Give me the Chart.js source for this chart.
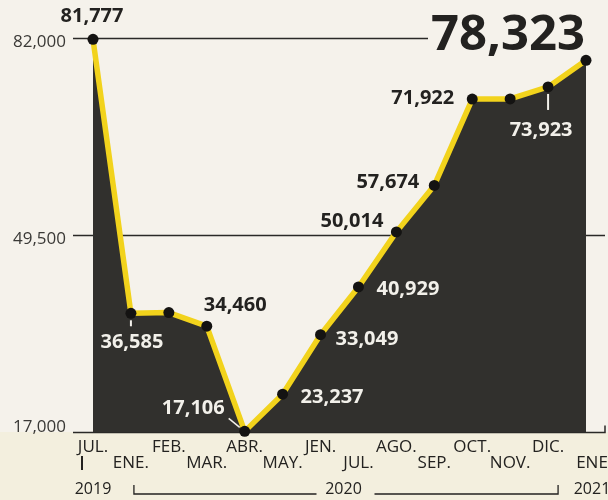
<!DOCTYPE html>
<html>
<head>
<meta charset="utf-8">
<script src="https://cdn.jsdelivr.net/npm/chart.js@4"></script>
<style>
  html, body { margin: 0; padding: 0; background: #f4f1e9; }
  #wrap { width: 608px; height: 500px; position: relative; }
</style>
</head>
<body>
<div id="wrap"><canvas id="chart" width="608" height="500"></canvas></div>
<script>
// ---- data ----
const months = ["JUL.", "ENE.", "FEB.", "MAR.", "ABR.", "MAY.", "JEN.", "JUL.", "AGO.", "SEP.", "OCT.", "NOV.", "DIC.", "ENE"];
const values = [81777, 36585, 36700, 34460, 17106, 23237, 33049, 40929, 50014, 57674, 71922, 71950, 73923, 78323];
const labelled = [true, true, false, true, true, true, true, true, true, true, true, false, true, true];
const years = ["2019", "2020", "2021"];
const yTicks = [17000, 49500, 82000];

// ---- look ----
const INK = "#232220";
const AREA = "#31302d";
const YELLOW = "#f2d31c";
const FONT = "'Open Sans', sans-serif";

// where each value label sits relative to its dot
const placement = [
  { align: "center", dx: -1, dy: -23, color: INK },
  { align: "center", dx: 1, dy: 29, color: "#f2f0ea", tick: [7, 13] },
  null,
  { align: "left", dx: -3, dy: -21, color: INK },
  { align: "right", dx: -20, dy: -23, color: "#f2f0ea", leader: true },
  { align: "left", dx: 18, dy: 3, color: "#f2f0ea" },
  { align: "left", dx: 15, dy: 5, color: "#f2f0ea" },
  { align: "left", dx: 18, dy: 2, color: "#f2f0ea" },
  { align: "right", dx: -13, dy: -11, color: INK },
  { align: "right", dx: -15, dy: -3, color: INK },
  { align: "right", dx: -18, dy: -1, color: INK },
  null,
  { align: "center", dx: -7, dy: 43, color: "#f2f0ea", tick: [7, 23] },
  { big: true }
];

const fmt = v => v.toLocaleString("en-US");

// paper background + slightly warmer band under the baseline
const paper = {
  id: "paper",
  beforeDraw(chart) {
    const { ctx, width, height } = chart;
    const base = chart.scales.y.getPixelForValue(17000);
    ctx.save();
    ctx.fillStyle = "#f5f2eb";
    ctx.fillRect(0, 0, width, height);
    ctx.fillStyle = "#f3efde";
    ctx.fillRect(0, base, width, height - base);
    ctx.restore();
  }
};

// reference lines and y labels, drawn under the area
const refLines = {
  id: "refLines",
  beforeDatasetsDraw(chart) {
    const { ctx, chartArea } = chart;
    const y = chart.scales.y;
    ctx.save();
    ctx.strokeStyle = "#2a2927";
    ctx.lineWidth = 1.5;
    yTicks.forEach(t => {
      const py = Math.round(y.getPixelForValue(t)) + 0.5;
      let x0 = chartArea.left - 20, x1 = chartArea.right + 19;
      if (t === 82000) x1 = chartArea.right - 158;
      ctx.beginPath();
      ctx.moveTo(x0, py);
      ctx.lineTo(x1, py);
      if (t === 17000) ctx.lineTo(x1, py - 7);
      ctx.stroke();

      ctx.fillStyle = "#3a3936";
      ctx.font = "17px " + FONT;
      ctx.textAlign = "right";
      ctx.textBaseline = "middle";
      ctx.fillText(fmt(t), chartArea.left - 27, t === 17000 ? py - 5 : py + 4);
    });
    ctx.restore();
  }
};

// month rows and year brackets under the axis
const monthAxis = {
  id: "monthAxis",
  afterDraw(chart) {
    const { ctx } = chart;
    const x = chart.scales.x;
    const base = chart.scales.y.getPixelForValue(17000);
    ctx.save();
    ctx.fillStyle = INK;
    ctx.font = "17px " + FONT;
    ctx.textAlign = "center";
    ctx.textBaseline = "middle";
    months.forEach((m, i) => {
      const px = x.getPixelForValue(i);
      const row = i % 2 === 0 ? 15 : 31;
      ctx.fillText(m, i === months.length - 1 ? px + 6 : px, base + row);
    });

    const first = x.getPixelForValue(0);
    const jan20 = x.getPixelForValue(1);
    const dec20 = x.getPixelForValue(12);
    const last = x.getPixelForValue(months.length - 1);
    const rowY = base + 57;

    ctx.font = "16px " + FONT;
    ctx.fillText(years[0], first, rowY);
    ctx.fillText(years[1], (jan20 + dec20) / 2 + 4, rowY);
    ctx.fillText(years[2], last + 6, rowY);

    ctx.strokeStyle = INK;
    ctx.lineWidth = 2;
    ctx.beginPath();
    ctx.moveTo(first - 11, base + 24);
    ctx.lineTo(first - 11, base + 38);
    ctx.stroke();

    ctx.lineWidth = 1.3;
    const mid = (jan20 + dec20) / 2 + 4;
    ctx.beginPath();
    ctx.moveTo(jan20 + 3, rowY - 4);
    ctx.lineTo(jan20 + 3, rowY + 5);
    ctx.lineTo(mid - 27, rowY + 5);
    ctx.moveTo(mid + 31, rowY + 5);
    ctx.lineTo(dec20 + 10, rowY + 5);
    ctx.lineTo(dec20 + 10, rowY - 4);
    ctx.stroke();
    ctx.restore();
  }
};

// value labels next to the dots
const valueLabels = {
  id: "valueLabels",
  afterDatasetsDraw(chart) {
    const { ctx, chartArea } = chart;
    const pts = chart.getDatasetMeta(1).data;
    ctx.save();
    values.forEach((v, i) => {
      const p = placement[i];
      if (!labelled[i] || !p) return;
      const pt = pts[i];
      if (p.big) {
        ctx.fillStyle = INK;
        ctx.font = "bold 49px " + FONT;
        ctx.textAlign = "right";
        ctx.textBaseline = "alphabetic";
        ctx.fillText(fmt(v), chartArea.right - 1, chartArea.top + 12);
        return;
      }
      ctx.fillStyle = p.color;
      ctx.strokeStyle = p.color;
      ctx.font = "bold 20px " + FONT;
      ctx.textAlign = p.align;
      ctx.textBaseline = "middle";
      ctx.fillText(fmt(v), pt.x + p.dx, pt.y + p.dy);
      ctx.lineWidth = 2;
      if (p.tick) {
        ctx.beginPath();
        ctx.moveTo(pt.x, pt.y + p.tick[0]);
        ctx.lineTo(pt.x, pt.y + p.tick[1]);
        ctx.stroke();
      }
      if (p.leader) {
        ctx.lineWidth = 1.5;
        ctx.beginPath();
        ctx.moveTo(pt.x - 16, pt.y - 13);
        ctx.lineTo(pt.x - 5, pt.y - 4);
        ctx.stroke();
      }
    });
    ctx.restore();
  }
};

new Chart(document.getElementById("chart"), {
  type: "line",
  data: {
    labels: months,
    datasets: [
      {
        // dark area
        data: values,
        fill: "start",
        backgroundColor: AREA,
        borderWidth: 0,
        pointRadius: 0,
        tension: 0,
        clip: false,
        order: 2
      },
      {
        // yellow line with dots
        data: values,
        fill: false,
        borderColor: YELLOW,
        borderWidth: 5.5,
        borderJoinStyle: "round",
        pointRadius: 5.5,
        pointBackgroundColor: "#141312",
        pointBorderWidth: 0,
        tension: 0,
        clip: false,
        order: 1
      }
    ]
  },
  options: {
    responsive: false,
    animation: false,
    events: [],
    layout: { padding: { left: 93, right: 22, top: 38, bottom: 68 } },
    plugins: { legend: { display: false }, tooltip: { enabled: false } },
    scales: {
      x: { display: false, offset: false },
      y: { display: false, min: 17000, max: 82000 }
    }
  },
  plugins: [paper, refLines, monthAxis, valueLabels]
});
</script>
</body>
</html>
